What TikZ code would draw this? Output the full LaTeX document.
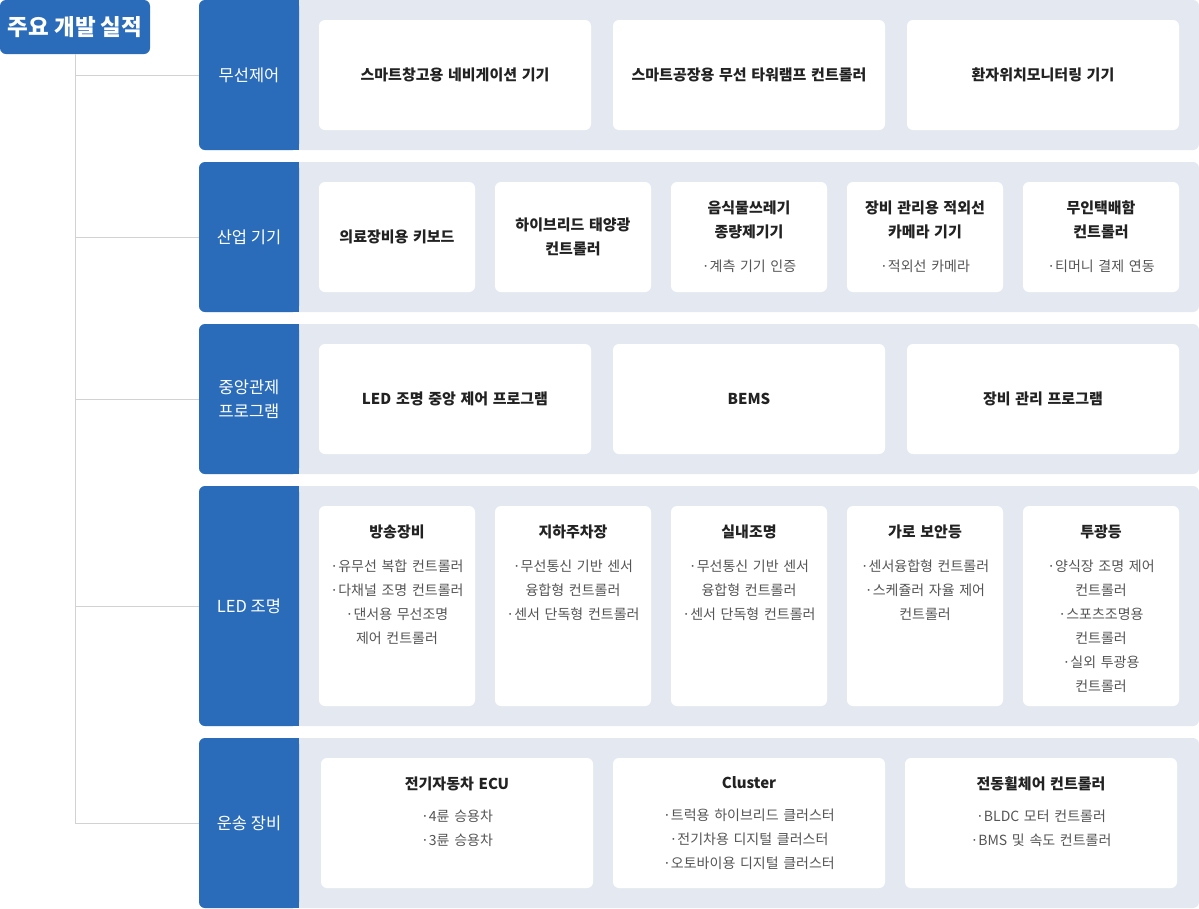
\documentclass[tikz,border=0pt]{standalone}
\usepackage{fontspec}
\setmainfont{Noto Sans CJK KR}
\usepackage{xcolor}
\usepackage{tikz}
\usetikzlibrary{positioning, calc}
\definecolor{Brand}{HTML}{2A6CB9}
\definecolor{Band}{HTML}{E4E9F1}
\definecolor{Ink}{HTML}{222222}
\definecolor{Sub}{HTML}{555555}
\definecolor{Wire}{HTML}{D2D2D2}
\newcommand{\cardhead}[1]{{\fontsize{15}{24}\selectfont\bfseries\color{Ink}#1}}
\newcommand{\carditem}[1]{{\color{Sub}#1}}

\begin{document}
\begin{tikzpicture}[
      x=1pt, y=1pt, outer sep=0pt,
      font=\fontsize{14}{24}\selectfont,
      band/.style={
        fill=Band, rounded corners=6pt, minimum width=1000pt,
        inner sep=0pt, anchor=north west
      },
      sect/.style={
        fill=Brand, rounded corners=6pt, minimum width=100pt,
        inner sep=0pt, anchor=north west, text=white, align=center,
        font=\fontsize{16.5}{24}\selectfont
      },
      card/.style={
        fill=white, rounded corners=6pt, text width=150pt, align=center,
        inner xsep=3pt, inner ysep=0pt, minimum height=110pt
      },
      wide/.style={card, text width=266pt},
      blank/.style={card, anchor=north west},
      cardtext/.style={inner sep=0pt, text width=150pt, align=center, anchor=north},
      wire/.style={draw=Wire, line width=1pt}
    ]
      \useasboundingbox (0,0) rectangle (1199,-908);

      % title
      \node[fill=Brand, rounded corners=6pt, text=white, minimum width=150pt,
            minimum height=54pt, inner sep=0pt, anchor=north west,
            font=\fontsize{22.5}{24}\selectfont\bfseries] (top) at (0,0) {주요 개발 실적};

      % bands
      \node[band, minimum height=150pt] (b1) at (199,0) {};
      \node[band, minimum height=150pt] (b2) at (199,-162) {};
      \node[band, minimum height=150pt] (b3) at (199,-324) {};
      \node[band, minimum height=240pt] (b4) at (199,-486) {};
      \node[band, minimum height=170pt] (b5) at (199,-738) {};
      \foreach \b in {b1,b2,b3,b4,b5}
        \fill[Brand] ($(\b.north west)+(50,0)$) rectangle ($(\b.south west)+(100,0)$);

      \node[sect, minimum height=150pt] (s1) at (b1.north west) {무선제어};
      \node[sect, minimum height=150pt] (s2) at (b2.north west) {산업 기기};
      \node[sect, minimum height=150pt] (s3) at (b3.north west) {중앙관제\\프로그램};
      \node[sect, minimum height=240pt] (s4) at (b4.north west) {LED 조명};
      \node[sect, minimum height=170pt] (s5) at (b5.north west) {운송 장비};

      % tree
      \foreach \s in {s1,s2,s3,s4,s5}
        \draw[wire] (top.south) |- (\s.west);

      % row 1
      \node[wide, anchor=north west]  (c11) at ($(b1.north west)+(120,-20)$) {\cardhead{스마트창고용 네비게이션 기기}};
      \node[wide, right=22pt of c11]  (c12) {\cardhead{스마트공장용 무선 타워램프 컨트롤러}};
      \node[wide, right=22pt of c12]  (c13) {\cardhead{환자위치모니터링 기기}};

      % row 2
      \node[card, anchor=north west]  (c21) at ($(b2.north west)+(120,-20)$) {\cardhead{의료장비용 키보드}};
      \node[card, right=20pt of c21]  (c22) {\cardhead{하이브리드 태양광\\컨트롤러}};
      \node[card, right=20pt of c22]  (c23) {\cardhead{음식물쓰레기\\종량제기기}\\[10pt]\carditem{·계측 기기 인증}};
      \node[card, right=20pt of c23]  (c24) {\cardhead{장비 관리용 적외선\\카메라 기기}\\[10pt]\carditem{·적외선 카메라}};
      \node[card, right=20pt of c24]  (c25) {\cardhead{무인택배함\\컨트롤러}\\[10pt]\carditem{·티머니 결제 연동}};

      % row 3
      \node[wide, anchor=north west]  (c31) at ($(b3.north west)+(120,-20)$) {\cardhead{LED 조명 중앙 제어 프로그램}};
      \node[wide, right=22pt of c31]  (c32) {\cardhead{BEMS}};
      \node[wide, right=22pt of c32]  (c33) {\cardhead{장비 관리 프로그램}};

      % row 4
      \node[blank, minimum height=200pt] (c41) at ($(b4.north west)+(120,-20)$) {};
      \node[blank, minimum height=200pt, right=20pt of c41] (c42) {};
      \node[blank, minimum height=200pt, right=20pt of c42] (c43) {};
      \node[blank, minimum height=200pt, right=20pt of c43] (c44) {};
      \node[blank, minimum height=200pt, right=20pt of c44] (c45) {};
      \node[cardtext, below=19pt of c41.north] (t41) {\cardhead{방송장비}\\[10pt]
        \carditem{·유무선 복합 컨트롤러\\·다채널 조명 컨트롤러\\·댄서용 무선조명\\제어 컨트롤러}};
      \node[cardtext, below=19pt of c42.north] (t42) {\cardhead{지하주차장}\\[10pt]
        \carditem{·무선통신 기반 센서\\융합형 컨트롤러\\·센서 단독형 컨트롤러}};
      \node[cardtext, below=19pt of c43.north] (t43) {\cardhead{실내조명}\\[10pt]
        \carditem{·무선통신 기반 센서\\융합형 컨트롤러\\·센서 단독형 컨트롤러}};
      \node[cardtext, below=19pt of c44.north] (t44) {\cardhead{가로 보안등}\\[10pt]
        \carditem{·센서융합형 컨트롤러\\·스케쥴러 자율 제어\\컨트롤러}};
      \node[cardtext, below=19pt of c45.north] (t45) {\cardhead{투광등}\\[10pt]
        \carditem{·양식장 조명 제어\\컨트롤러\\·스포츠조명용\\컨트롤러\\·실외 투광용\\컨트롤러}};

      % row 5
      \node[wide, anchor=north west, minimum height=130pt] (c51) at ($(b5.north west)+(122,-20)$) {};
      \node[wide, minimum height=130pt, right=20pt of c51] (c52) {};
      \node[wide, minimum height=130pt, right=20pt of c52] (c53) {};
      \node[cardtext, text width=266pt, below=19pt of c51.north] (t51) {\cardhead{전기자동차 ECU}\\[8pt]
        \carditem{·4륜 승용차\\·3륜 승용차}};
      \node[cardtext, text width=266pt, below=19pt of c52.north] (t52) {\cardhead{Cluster}\\[8pt]
        \carditem{·트럭용 하이브리드 클러스터\\·전기차용 디지털 클러스터\\·오토바이용 디지털 클러스터}};
      \node[cardtext, text width=266pt, below=19pt of c53.north] (t53) {\cardhead{전동휠체어 컨트롤러}\\[8pt]
        \carditem{·BLDC 모터 컨트롤러\\·BMS 및 속도 컨트롤러}};
    \end{tikzpicture}
\end{document}
